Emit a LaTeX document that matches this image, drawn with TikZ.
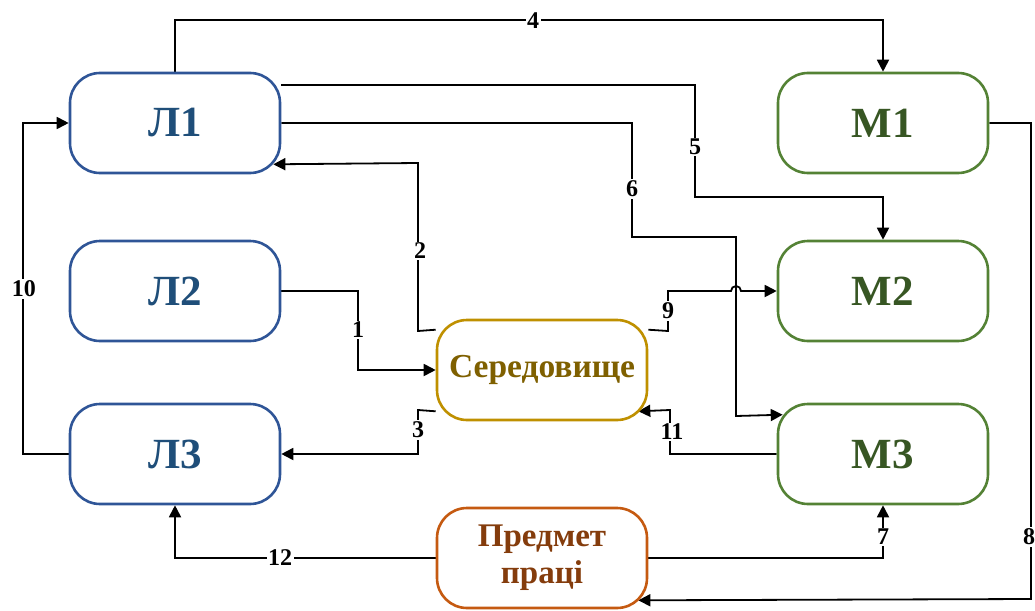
\documentclass[tikz,border=0pt]{standalone}
\usepackage{fontspec}
\setmainfont{Liberation Serif}
\usetikzlibrary{arrows.meta,calc,backgrounds}

\definecolor{lblue}{HTML}{2F5597}
\definecolor{lbluet}{HTML}{1F4E79}
\definecolor{mgreen}{HTML}{548235}
\definecolor{mgreent}{HTML}{375623}
\definecolor{sgold}{HTML}{BF9000}
\definecolor{sgoldt}{HTML}{7F6000}
\definecolor{porange}{HTML}{C55A11}
\definecolor{poranget}{HTML}{843C0C}

\tikzset{
  box/.style={draw, line width=2.6pt, fill=white, rounded corners=30pt,
    minimum width=210pt, minimum height=100pt, inner sep=0pt, align=center},
  lbox/.style={box, draw=lblue, text=lbluet, font=\fontsize{43}{43}\selectfont\bfseries},
  mbox/.style={box, draw=mgreen, text=mgreent, font=\fontsize{43}{43}\selectfont\bfseries},
  sbox/.style={box, draw=sgold, text=sgoldt, font=\fontsize{33.5}{33.5}\selectfont\bfseries},
  pbox/.style={box, draw=porange, text=poranget, font=\fontsize{33}{37}\selectfont\bfseries},
  conn/.style={line width=1.8pt, black, -{Triangle[length=12pt,width=12pt]}},
  lab/.style={fill=white, inner sep=1.5pt, text=black, font=\fontsize{24}{24}\selectfont\bfseries}
}

\begin{document}
\begin{tikzpicture}[x=1pt, y=-1pt]
\useasboundingbox (0,0) rectangle (1035,610);

% participants and tools
\node[lbox] (L1) at (175,123) {Л1};
\node[lbox] (L2) at (175,291) {Л2};
\node[lbox] (L3) at (175,454) {Л3};
\node[mbox] (M1) at (883,123) {М1};
\node[mbox] (M2) at (883,291) {М2};
\node[mbox] (M3) at (883,454) {М3};
\node[sbox] (S) at (542,370) {Середовище};
\node[pbox] (P) at (542,558) {Предмет\\праці};

\begin{pgfonlayer}{background}
% 4: Л1 -> М1
\draw[conn] (L1.north) -- ++(0,-52) -| (M1.north);
% 5: Л1 -> М2
\draw[conn] ($(L1.east)+(0,-38)$) -- (695,85) -- (695,197) -| (M2.north);
% 6: Л1 -> М3
\draw[conn] (L1.east) -- (632,123) -- (632,237) -- (736,237) -- (736,416)
  -- ($(M3.north west)+(6,12)$);
% 2: Середовище -> Л1
\draw[conn] ($(S.north west)+(0,11)$) -- (418,331) -- (418,163)
  -- ($(L1.south east)+(-8,-10)$);
% 1: Л2 -> Середовище
\draw[conn] (L2.east) -- (358,291) |- (S.west);
% 3: Середовище -> Л3
\draw[conn] ($(S.south west)+(0,-10)$) -- (418,410) |- (L3.east);
% 9: Середовище -> М2, hopping over line 6
\draw[conn] ($(S.north east)+(0,11)$) -- (668,331) -- (668,291) -- (731,291)
  arc[start angle=180, end angle=0, radius=5pt] -- (M2.west);
% 11: М3 -> Середовище
\draw[conn] (M3.west) -- (670,454) -- (670,410) -- ($(S.south east)+(-10,-10)$);
% 7: Предмет праці -> М3
\draw[conn] (P.east) -| (M3.south);
% 8: М1 -> Предмет праці
\draw[conn] (M1.east) -- (1031,123) -- (1031,599) -- ($(P.south east)+(-10,-9)$);
% 10: Л3 -> Л1
\draw[conn] (L3.west) -- (23,454) -- (23,123) -- (L1.west);
% 12: Предмет праці -> Л3
\draw[conn] (P.west) -| (L3.south);
\end{pgfonlayer}

% connector numbers
\node[lab] (n1) at (358,330) {1};
\node[lab] (n2) at (420,251) {2};
\node[lab] (n3) at (418,430) {3};
\node[lab] (n4) at (533,21) {4};
\node[lab] (n5) at (695,147) {5};
\node[lab] (n6) at (632,189) {6};
\node[lab] (n7) at (883,537) {7};
\node[lab] (n8) at (1029,537) {8};
\node[lab] (n9) at (668,311) {9};
\node[lab] (n10) at (24,289) {10};
\node[lab] (n11) at (672,432) {11};
\node[lab] (n12) at (280,558) {12};
\end{tikzpicture}
\end{document}
